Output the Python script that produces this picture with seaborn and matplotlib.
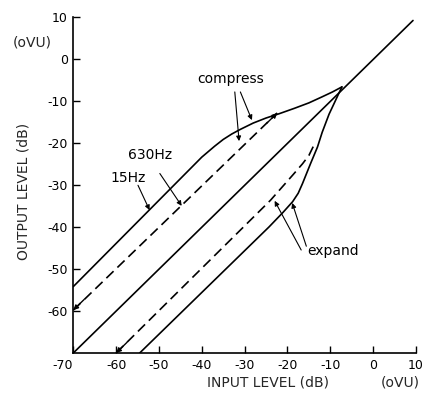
import matplotlib
matplotlib.use("Agg")
import matplotlib.pyplot as plt
import seaborn as sns

# ---- data (input dB, output dB) ----
identity_in = [-70, 9.3]
identity_out = [-70, 9.1]

compress15_in = [-70, -40.0, -37.0, -35.0, -33.0, -31.0, -28.0, -25.0, -22.0, -18.4, -15.0, -12.0, -9.5, -7.3]
compress15_out = [-54.2, -23.4, -20.8, -19.2, -17.9, -16.8, -15.3, -14.1, -13.1, -11.8, -10.5, -9.1, -7.9, -6.7]

compress630_in = [-70, -22.4]
compress630_out = [-59.8, -12.9]

expand15_in = [-54.5, -24.3, -21.0, -18.8, -17.5, -16.5, -14.6, -13.0, -11.9, -10.3, -9.1, -8.0, -7.3]
expand15_out = [-70, -40.0, -36.5, -34.0, -32.0, -29.7, -24.9, -21.0, -17.5, -13.2, -10.6, -8.2, -6.7]

expand630_in = [-60, -24.0, -18.8, -16.5, -15.0, -13.8]
expand630_out = [-70, -33.7, -27.7, -25.0, -23.0, -20.5]

x_ticks = [-70, -60, -50, -40, -30, -20, -10, 0, 10]
y_ticks = [10, 0, -10, -20, -30, -40, -50, -60]

sns.set_style("white")
plt.rcParams['font.family'] = ['DejaVu Sans']

fig = plt.figure(figsize=(4.24, 3.93), dpi=100)
ax = fig.add_axes([73.3 / 424, 40 / 393, (416 - 73.3) / 424, (353 - 16.7) / 393])

line_kw = dict(color="black", linewidth=1.2, sort=False, estimator=None, legend=False)

sns.lineplot(x=identity_in, y=identity_out, ax=ax, **line_kw)
sns.lineplot(x=compress15_in, y=compress15_out, ax=ax, **line_kw)
sns.lineplot(x=expand15_in, y=expand15_out, ax=ax, **line_kw)
sns.lineplot(x=compress630_in, y=compress630_out, ax=ax, **line_kw)
sns.lineplot(x=expand630_in, y=expand630_out, ax=ax, **line_kw)
for line in ax.get_lines()[3:]:
    line.set_dashes((6, 3.2))

# small arrowheads on the dashed lines' ends
head = dict(arrowstyle="-|>", color="black", lw=1.0, mutation_scale=7, shrinkA=0, shrinkB=0)
ax.annotate("", xy=(compress630_in[0], compress630_out[0]),
            xytext=(compress630_in[0] + 2.5, compress630_out[0] + 2.5), arrowprops=head)
ax.annotate("", xy=(compress630_in[-1], compress630_out[-1]),
            xytext=(compress630_in[-1] - 2.5, compress630_out[-1] - 2.5), arrowprops=head)
ax.annotate("", xy=(expand630_in[0], expand630_out[0]),
            xytext=(expand630_in[0] + 2.5, expand630_out[0] + 2.5), arrowprops=head)

ax.set_xlim(-70, 10)
ax.set_ylim(-70, 10)
ax.set_xticks(x_ticks)
ax.set_yticks(y_ticks)
ax.set_xticklabels([str(v) for v in x_ticks])
ax.set_yticklabels([str(v) for v in y_ticks])
ax.tick_params(bottom=True, left=True, direction="in", length=5, width=1.0,
               labelsize=9, colors="black", pad=4)
ax.get_xticklabels()[0].set_ha("right")

sns.despine(ax=ax)
for s in ("left", "bottom"):
    ax.spines[s].set_color("black")
    ax.spines[s].set_linewidth(1.2)
ax.set_xlabel("")
ax.set_ylabel("")

# annotations
txt = dict(fontsize=10, color="black", ha="center", va="center")
arr = dict(arrowstyle="-|>", color="black", lw=0.8, mutation_scale=7, shrinkA=0, shrinkB=0)
ax.text(-33.3, -4.8, "compress", **txt)
ax.annotate("", xy=(-31.3, -19.6), xytext=(-32.3, -7.9), arrowprops=arr)
ax.annotate("", xy=(-28.3, -14.6), xytext=(-31.0, -7.9), arrowprops=arr)
ax.text(-52.1, -23.0, "630Hz", **txt)
ax.annotate("", xy=(-44.7, -35.0), xytext=(-49.8, -27.3), arrowprops=arr)
ax.text(-57.3, -28.4, "15Hz", **txt)
ax.annotate("", xy=(-52.2, -36.0), xytext=(-54.9, -30.1), arrowprops=arr)
ax.text(-9.3, -45.8, "expand", **txt)
ax.annotate("", xy=(-23.0, -33.8), xytext=(-16.8, -45.5), arrowprops=arr)
ax.annotate("", xy=(-18.9, -34.3), xytext=(-15.6, -44.6), arrowprops=arr)

fig.text(32 / 424, 1 - 42 / 393, "(oVU)", fontsize=10, ha="center", va="center")
fig.text(400 / 424, 1 - 383 / 393, "(oVU)", fontsize=10, ha="center", va="center")
fig.text(268 / 424, 1 - 383 / 393, "INPUT LEVEL (dB)", fontsize=10, ha="center", va="center")
fig.text(24 / 424, 1 - 191 / 393, "OUTPUT LEVEL (dB)", fontsize=10, ha="center", va="center", rotation=90)

fig.savefig("out.png", dpi=100, facecolor="white")
